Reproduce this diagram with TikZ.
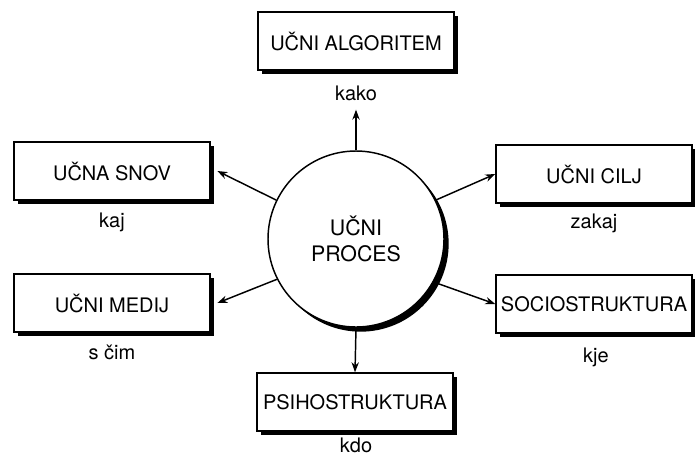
\documentclass[tikz,border=0pt]{standalone}
\usepackage{fontspec}
\setmainfont{TeX Gyre Heros}
\usetikzlibrary{shadows,arrows.meta}

\begin{document}
\begin{tikzpicture}[x=0.75pt, y=-0.75pt,
  box/.style={draw, fill=white, line width=1.1pt, minimum width=147pt, minimum height=43.5pt,
    font=\fontsize{15}{18}\selectfont,
    drop shadow={shadow xshift=2.8pt, shadow yshift=-2.8pt, fill=black, opacity=1}},
  proc/.style={circle, draw, fill=white, line width=1.1pt, minimum size=132pt, inner sep=0pt,
    align=center, font=\fontsize{16}{19}\selectfont,
    drop shadow={shadow xshift=3.5pt, shadow yshift=-3.5pt, fill=black, opacity=1}},
  lbl/.style={anchor=base, font=\fontsize{15}{18}\selectfont},
  arr/.style={-{Stealth[length=7.5pt, width=5.5pt]}, line width=1.1pt}]
\useasboundingbox (0,0) rectangle (695,458);
% centre
\node[proc] (proc) at (356,239) {UČNI\\PROCES};
% boxes round it
\node[box] (algo) at (356,41) {UČNI ALGORITEM};
\node[box] (snov) at (112,171) {UČNA SNOV};
\node[box] (cilj) at (594,174) {UČNI CILJ};
\node[box] (medij) at (112,303) {UČNI MEDIJ};
\node[box] (psiho) at (355,402) {PSIHOSTRUKTURA};
\node[box] (socio) at (594,304) {SOCIOSTRUKTURA};
% questions
\node[lbl] (kako) at (356,100) {kako};
\node[lbl] (kaj) at (112,227) {kaj};
\node[lbl] (zakaj) at (594,228) {zakaj};
\node[lbl] (scim) at (112,359) {s čim};
\node[lbl] (kdo) at (356,452) {kdo};
\node[lbl] (kje) at (596,362) {kje};
% arrows
\draw[arr, shorten >=3.5pt] (proc.north) -- (kako);
\draw[arr] (proc.154) -- ([xshift=5pt]snov.east);
\draw[arr] (proc.26) -- (cilj.west);
\draw[arr] (proc.207) -- ([xshift=5pt]medij.east);
\draw[arr] (proc.331) -- (socio.west);
\draw[arr] (proc.south) -- (psiho.north);
\end{tikzpicture}
\end{document}
